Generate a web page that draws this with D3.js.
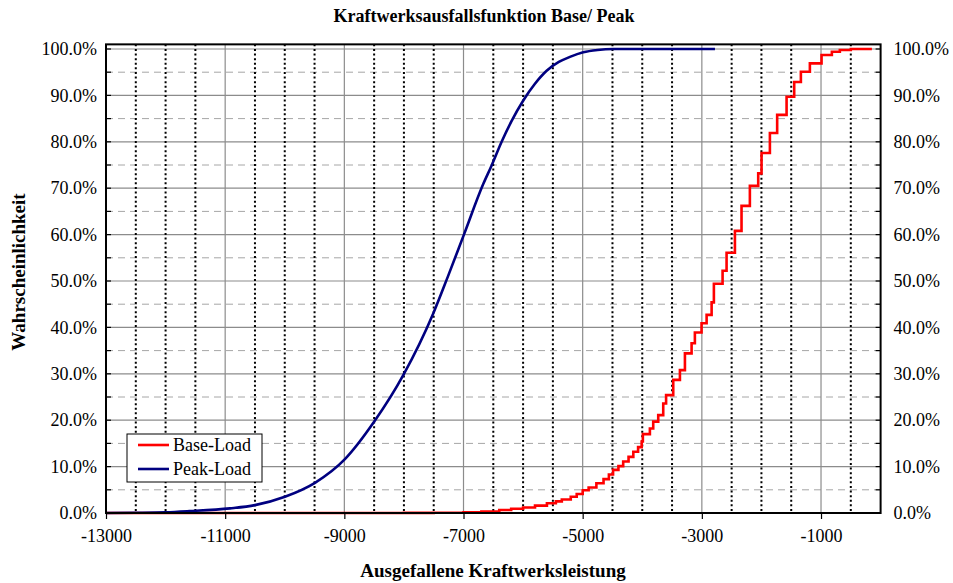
<!DOCTYPE html>
<html>
<head>
<meta charset="utf-8">
<script src="https://cdn.jsdelivr.net/npm/d3@7"></script>
<style>
  body { margin: 0; background: #fff; }
  svg { display: block; }
  text { font-family: "Liberation Serif", "Times New Roman", serif; fill: #000; }
</style>
</head>
<body>
<svg id="chart" width="953" height="583"></svg>
<script>
// ---- data ----
const title = "Kraftwerksausfallsfunktion Base/ Peak";
const xTitle = "Ausgefallene Kraftwerksleistung";
const yTitle = "Wahrscheinlichkeit";
const xTickValues = [-13000, -11000, -9000, -7000, -5000, -3000, -1000];
const yTickValues = [0, 0.1, 0.2, 0.3, 0.4, 0.5, 0.6, 0.7, 0.8, 0.9, 1.0];
const seriesNames = ["Base-Load", "Peak-Load"];
const seriesColors = ["#ff0000", "#000080"];

// Peak-Load: [MW, probability %]
const peakLoad = [
  [-13000, 0], [-12500, 0.05], [-12000, 0.15], [-11600, 0.4], [-10919, 1.0],
  [-10500, 1.7], [-9997, 3.5], [-9493, 6.5], [-8990, 11.6], [-8498, 19.7],
  [-8011, 29.7], [-7508, 43.0], [-7261, 51.0], [-6993, 60.0], [-6669, 70.9],
  [-6528, 74.9], [-6360, 80.0], [-6192, 84.5], [-5997, 88.9], [-5801, 92.5],
  [-5605, 95.3], [-5400, 97.2], [-5214, 98.3], [-4991, 99.3], [-4750, 99.8],
  [-4487, 100], [-2780, 100]
];

// Base-Load (step function): [MW, probability %]
const baseLoad = [
  [-13000, 0], [-8000, 0.02], [-7500, 0.05], [-7000, 0.15], [-6700, 0.3],
  [-6400, 0.65], [-6200, 0.9], [-6000, 1.2], [-5800, 1.6], [-5600, 2.1],
  [-5450, 2.5], [-5350, 2.9], [-5200, 3.5], [-5100, 4.1], [-5000, 4.9],
  [-4900, 5.5], [-4770, 6.4], [-4650, 7.3], [-4560, 8.3], [-4490, 9.3],
  [-4400, 10.1], [-4320, 11.1], [-4230, 12.1], [-4150, 13.2], [-4070, 14.2],
  [-4010, 15.4], [-3990, 17.0], [-3872, 18.2], [-3816, 19.7], [-3732, 21.1],
  [-3648, 23.6], [-3600, 25.4], [-3480, 28.7], [-3368, 30.8], [-3284, 34.4],
  [-3172, 36.6], [-3117, 38.9], [-3005, 40.9], [-2920, 42.7], [-2836, 45.4],
  [-2798, 49.4], [-2652, 52.2], [-2585, 56.1], [-2445, 60.8], [-2334, 66.2],
  [-2194, 70.5], [-2054, 73.2], [-1998, 77.6], [-1858, 81.9], [-1736, 85.8],
  [-1578, 89.7], [-1450, 92.9], [-1338, 95.1], [-1187, 96.9], [-991, 98.7],
  [-818, 99.4], [-684, 99.8], [-500, 100], [-146, 100]
];

// ---- layout ----
const svg = d3.select("#chart");
const x = d3.scaleLinear().domain([-13000, 0]).range([106, 880.6]);
const y = d3.scaleLinear().domain([0, 1]).range([513, 49]);
const yTop = y(1.01);
const x0 = x(-13000), x1 = x(0), yB = y(0);

// grid: dashed horizontal at 5%
const g = svg.append("g");
d3.range(0.05, 1.0, 0.1).forEach(v => {
  g.append("line").attr("x1", x0).attr("x2", x1).attr("y1", y(v)).attr("y2", y(v))
    .attr("stroke", "#a6a6a6").attr("stroke-width", 1).attr("stroke-dasharray", "7,5");
});
// solid horizontal at 10%
yTickValues.forEach(v => {
  g.append("line").attr("x1", x0).attr("x2", x1).attr("y1", y(v)).attr("y2", y(v))
    .attr("stroke", "#8c8c8c").attr("stroke-width", 1.2);
});
// vertical: solid at tick values, dotted black at other 500 steps
d3.range(-12500, 0, 500).forEach(v => {
  const isMajor = xTickValues.includes(v);
  const l = g.append("line").attr("x1", x(v)).attr("x2", x(v)).attr("y1", yTop).attr("y2", yB);
  if (isMajor) l.attr("stroke", "#8c8c8c").attr("stroke-width", 1.2);
  else l.attr("stroke", "#000").attr("stroke-width", 2).attr("stroke-dasharray", "2,2.6");
});

// lines
const lineSmooth = d3.line().x(d => x(d[0])).y(d => y(d[1] / 100)).curve(d3.curveMonotoneX);
const lineStep = d3.line().x(d => x(d[0])).y(d => y(d[1] / 100)).curve(d3.curveStepAfter);
svg.append("path").attr("d", lineStep(baseLoad)).attr("fill", "none")
  .attr("stroke", seriesColors[0]).attr("stroke-width", 2.6).attr("stroke-linejoin", "miter");
svg.append("path").attr("d", lineSmooth(peakLoad)).attr("fill", "none")
  .attr("stroke", seriesColors[1]).attr("stroke-width", 2.6);

// frame
svg.append("rect").attr("x", x0).attr("y", yTop).attr("width", x1 - x0).attr("height", yB - yTop)
  .attr("fill", "none").attr("stroke", "#000").attr("stroke-width", 2);

// y ticks (inside) every 5%, left and right
d3.range(0, 1.0001, 0.05).forEach(v => {
  svg.append("line").attr("x1", x0).attr("x2", x0 + 5).attr("y1", y(v)).attr("y2", y(v))
    .attr("stroke", "#000").attr("stroke-width", 1.2);
  svg.append("line").attr("x1", x1 - 5).attr("x2", x1).attr("y1", y(v)).attr("y2", y(v))
    .attr("stroke", "#000").attr("stroke-width", 1.2);
});
// axes labels via d3 axes
const fmt = d3.format(".1%");
const leftAxis = svg.append("g").attr("transform", `translate(${x0},0)`)
  .call(d3.axisLeft(y).tickValues(yTickValues).tickFormat(fmt).tickSize(0).tickPadding(9));
const rightAxis = svg.append("g").attr("transform", `translate(${x1},0)`)
  .call(d3.axisRight(y).tickValues(yTickValues).tickFormat(fmt).tickSize(0).tickPadding(13));
const bottomAxis = svg.append("g").attr("transform", `translate(0,${yB})`)
  .call(d3.axisBottom(x).tickValues(xTickValues).tickFormat(d => String(d)).tickSize(6).tickPadding(10));
[leftAxis, rightAxis, bottomAxis].forEach(a => {
  a.select(".domain").remove();
  a.selectAll("text").attr("font-size", 18).attr("font-family", "Liberation Serif, serif").attr("fill", "#000");
  a.selectAll("line").attr("stroke", "#000").attr("stroke-width", 1.2);
});

// titles
svg.append("text").attr("x", 484).attr("y", 22).attr("text-anchor", "middle")
  .attr("font-size", 18).attr("font-weight", "bold").text(title);
svg.append("text").attr("x", 493).attr("y", 577).attr("text-anchor", "middle")
  .attr("font-size", 19).attr("font-weight", "bold").text(xTitle);
svg.append("text").attr("transform", "translate(25,272) rotate(-90)").attr("text-anchor", "middle")
  .attr("font-size", 19).attr("font-weight", "bold").text(yTitle);

// legend
const lg = svg.append("g");
lg.append("rect").attr("x", 127).attr("y", 434).attr("width", 135).attr("height", 48)
  .attr("fill", "#fff").attr("stroke", "#000").attr("stroke-width", 1);
seriesNames.forEach((n, i) => {
  const yy = 445 + i * 24;
  lg.append("line").attr("x1", 138).attr("x2", 169).attr("y1", yy).attr("y2", yy)
    .attr("stroke", seriesColors[i]).attr("stroke-width", 2.6);
  lg.append("text").attr("x", 173).attr("y", yy + 6).attr("font-size", 18).text(n);
});
</script>
</body>
</html>
